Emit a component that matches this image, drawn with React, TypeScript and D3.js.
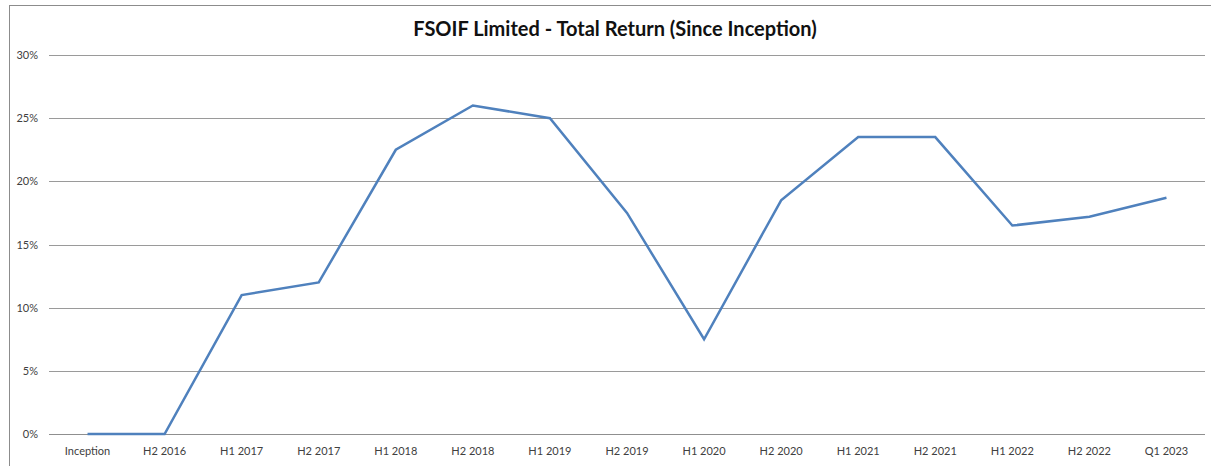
import React from "react";
import { scaleBand, scaleLinear, line } from "d3";

const periods = [
  "Inception", "H2 2016", "H1 2017", "H2 2017", "H1 2018", "H2 2018", "H1 2019",
  "H2 2019", "H1 2020", "H2 2020", "H1 2021", "H2 2021", "H1 2022", "H2 2022", "Q1 2023",
];
const totalReturn = [0, 0, 11, 12, 22.5, 26, 25, 17.5, 7.5, 18.5, 23.5, 23.5, 16.5, 17.2, 18.7];
const yTicks = [0, 5, 10, 15, 20, 25, 30];

const W = 1211;
const H = 466;
const m = { top: 55, right: 6, bottom: 32, left: 49 };

export default function App() {
  const x = scaleBand().domain(periods).range([m.left, W - m.right]).padding(0);
  const y = scaleLinear().domain([0, 30]).range([H - m.bottom, m.top]);

  const path = line<number>()
    .x((_, i) => (x(periods[i]) ?? 0) + x.bandwidth() / 2)
    .y((d) => y(d))(totalReturn);

  return (
    <svg width={W} height={H} style={{ position: "absolute", left: 0, top: 0, fontFamily: "Lato, Carlito, sans-serif" }}>
      <rect x={0} y={0} width={W} height={H} fill="#fff" />
      {/* chart frame (top and left edges visible) */}
      <line x1={9} x2={W} y1={5.5} y2={5.5} stroke="#8c8c8c" strokeWidth={1} />
      <line x1={9.5} x2={9.5} y1={5} y2={H} stroke="#8c8c8c" strokeWidth={1} />

      <text x={615} y={36} textAnchor="middle" fontSize={20} fontWeight="bold" fill="#111">
        FSOIF Limited - Total Return (Since Inception)
      </text>

      {yTicks.map((t) => (
        <g key={t}>
          <line
            x1={m.left}
            x2={W - m.right}
            y1={Math.round(y(t)) + 0.5}
            y2={Math.round(y(t)) + 0.5}
            stroke={t === 0 ? "#8f8f8f" : "#9a9a9a"}
            strokeWidth={1}
          />
          <text x={38} y={y(t) + 4} textAnchor="end" fontSize={11} fill="#404040">
            {t}%
          </text>
        </g>
      ))}

      {periods.map((p) => (
        <text
          key={p}
          x={(x(p) ?? 0) + x.bandwidth() / 2}
          y={455}
          textAnchor="middle"
          fontSize={11}
          fill="#404040"
        >
          {p}
        </text>
      ))}

      <path d={path ?? ""} fill="none" stroke="#4f81bd" strokeWidth={2.5} strokeLinejoin="miter" />
    </svg>
  );
}
